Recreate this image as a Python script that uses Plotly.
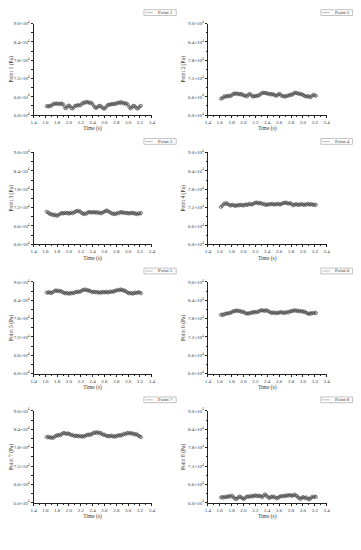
import plotly.graph_objects as go

time_s = [1.62,1.64,1.66,1.68,1.70,1.72,1.74,1.76,1.78,1.80,
          1.82,1.84,1.86,1.88,1.90,1.92,1.94,1.96,1.98,2.00,
          2.02,2.04,2.06,2.08,2.10,2.12,2.14,2.16,2.18,2.20,
          2.22,2.24,2.26,2.28,2.30,2.32,2.34,2.36,2.38,2.40,
          2.42,2.44,2.46,2.48,2.50,2.52,2.54,2.56,2.58,2.60,
          2.62,2.64,2.66,2.68,2.70,2.72,2.74,2.76,2.78,2.80,
          2.82,2.84,2.86,2.88,2.90,2.92,2.94,2.96,2.98,3.00,
          3.02,3.04,3.06,3.08,3.10,3.12,3.14,3.16,3.18,3.20,3.22]

# pressure values in units of 10^4 Pa
point1 = [6.29,6.30,6.28,6.31,6.30,6.35,6.38,6.36,6.39,6.37,
          6.38,6.35,6.39,6.37,6.36,6.28,6.22,6.24,6.30,6.32,
          6.29,6.23,6.21,6.25,6.31,6.30,6.33,6.31,6.34,6.32,
          6.38,6.41,6.39,6.43,6.44,6.41,6.42,6.39,6.41,6.36,
          6.30,6.25,6.23,6.26,6.30,6.31,6.29,6.25,6.22,6.21,
          6.24,6.30,6.34,6.33,6.36,6.35,6.37,6.36,6.38,6.37,
          6.40,6.42,6.39,6.43,6.41,6.38,6.40,6.37,6.38,6.33,
          6.26,6.22,6.24,6.30,6.31,6.28,6.23,6.21,6.24,6.29,6.31]
point2 = [6.54,6.55,6.58,6.62,6.60,6.63,6.61,6.64,6.62,6.65,
          6.68,6.71,6.69,6.72,6.70,6.68,6.70,6.67,6.69,6.65,
          6.63,6.64,6.61,6.66,6.70,6.68,6.64,6.60,6.62,6.63,
          6.62,6.65,6.64,6.68,6.71,6.73,6.74,6.72,6.73,6.70,
          6.71,6.68,6.70,6.67,6.69,6.66,6.64,6.63,6.67,6.70,
          6.68,6.64,6.61,6.63,6.60,6.62,6.65,6.63,6.66,6.68,
          6.66,6.70,6.73,6.74,6.72,6.70,6.71,6.68,6.69,6.66,
          6.64,6.62,6.60,6.63,6.61,6.58,6.61,6.64,6.67,6.65,6.63]
point3 = [7.07,7.05,7.02,6.98,7.00,6.96,6.95,6.98,6.94,6.93,
          6.96,6.98,7.01,7.03,7.00,7.02,7.04,7.01,7.03,7.00,
          7.02,7.04,7.01,7.03,7.06,7.08,7.10,7.07,7.09,7.05,
          7.02,6.99,7.01,6.98,7.02,7.04,7.06,7.05,7.03,7.06,
          7.04,7.05,7.03,7.06,7.02,7.04,7.01,7.03,7.05,7.07,
          7.09,7.11,7.08,7.06,7.04,7.02,6.99,7.01,6.98,7.00,
          7.03,7.01,7.04,7.06,7.03,7.05,7.02,7.04,7.01,7.03,
          7.00,7.02,7.04,7.01,7.03,6.99,7.01,6.98,7.02,7.00,7.03]
point4 = [7.22,7.25,7.30,7.34,7.32,7.35,7.31,7.29,7.26,7.28,
          7.30,7.27,7.25,7.28,7.26,7.29,7.27,7.30,7.28,7.26,
          7.29,7.31,7.28,7.30,7.33,7.31,7.29,7.32,7.34,7.36,
          7.37,7.35,7.33,7.36,7.34,7.31,7.33,7.30,7.28,7.31,
          7.29,7.32,7.30,7.33,7.31,7.29,7.32,7.30,7.33,7.31,
          7.29,7.32,7.34,7.36,7.35,7.37,7.34,7.32,7.35,7.33,
          7.30,7.27,7.29,7.32,7.30,7.28,7.31,7.29,7.32,7.30,
          7.28,7.31,7.29,7.33,7.31,7.29,7.32,7.30,7.28,7.30,7.29]
point5 = [8.66,8.64,8.67,8.65,8.63,8.66,8.68,8.71,8.73,8.70,
          8.72,8.69,8.71,8.68,8.66,8.64,8.62,8.65,8.63,8.61,
          8.64,8.62,8.65,8.63,8.66,8.68,8.66,8.69,8.67,8.70,
          8.72,8.75,8.73,8.76,8.74,8.71,8.73,8.70,8.68,8.66,
          8.69,8.67,8.65,8.68,8.66,8.64,8.67,8.65,8.68,8.66,
          8.66,8.68,8.65,8.67,8.69,8.67,8.70,8.68,8.71,8.73,
          8.72,8.75,8.73,8.76,8.74,8.71,8.73,8.69,8.67,8.64,
          8.62,8.65,8.63,8.61,8.64,8.66,8.63,8.65,8.67,8.65,8.63]
point6 = [7.92,7.94,7.91,7.95,7.97,7.96,7.98,7.97,7.99,8.01,
          8.03,8.05,8.04,8.07,8.06,8.04,8.06,8.03,8.01,8.03,
          8.00,7.97,7.96,7.98,7.96,7.99,8.01,7.99,8.02,8.00,
          8.03,8.01,8.04,8.06,8.08,8.06,8.07,8.05,8.08,8.06,
          8.04,8.02,8.00,7.98,8.01,7.99,7.97,8.00,7.98,8.01,
          7.99,8.02,8.00,7.98,8.01,7.99,8.02,8.00,8.03,8.05,
          8.04,8.06,8.08,8.05,8.07,8.04,8.06,8.03,8.05,8.02,
          8.04,8.01,7.99,7.97,7.95,7.98,7.96,7.99,7.97,8.00,7.98]
point7 = [8.15,8.13,8.16,8.12,8.14,8.11,8.13,8.16,8.18,8.21,
          8.19,8.22,8.20,8.25,8.27,8.28,8.26,8.24,8.27,8.25,
          8.23,8.20,8.22,8.19,8.17,8.20,8.18,8.16,8.19,8.17,
          8.15,8.18,8.16,8.19,8.21,8.23,8.20,8.24,8.22,8.26,
          8.28,8.30,8.27,8.31,8.29,8.26,8.28,8.24,8.21,8.23,
          8.20,8.17,8.19,8.16,8.18,8.20,8.17,8.15,8.18,8.16,
          8.19,8.21,8.18,8.22,8.20,8.24,8.26,8.23,8.27,8.29,
          8.26,8.28,8.25,8.27,8.24,8.22,8.25,8.21,8.18,8.16,8.14]
point8 = [6.17,6.19,6.16,6.20,6.18,6.21,6.19,6.22,6.20,6.24,
          6.21,6.17,6.13,6.12,6.15,6.19,6.21,6.18,6.15,6.12,
          6.14,6.18,6.20,6.22,6.19,6.21,6.23,6.20,6.22,6.25,
          6.23,6.21,6.24,6.22,6.20,6.18,6.24,6.28,6.25,6.21,
          6.17,6.15,6.19,6.21,6.18,6.20,6.17,6.14,6.16,6.19,
          6.22,6.20,6.23,6.21,6.24,6.22,6.25,6.23,6.26,6.24,
          6.22,6.25,6.27,6.24,6.22,6.18,6.15,6.12,6.16,6.19,
          6.17,6.15,6.18,6.14,6.11,6.13,6.17,6.20,6.18,6.21,6.19]

series_names = ["Point 1", "Point 2", "Point 3", "Point 4",
                "Point 5", "Point 6", "Point 7", "Point 8"]
series_values = [point1, point2, point3, point4, point5, point6, point7, point8]

x_tick_vals = [1.4, 1.6, 1.8, 2.0, 2.2, 2.4, 2.6, 2.8, 3.0, 3.2, 3.4]
x_tick_text = ["1.4", "1.6", "1.8", "2.0", "2.2", "2.4", "2.6", "2.8", "3.0", "3.2", "3.4"]
y_tick_vals = [6.0, 6.6, 7.2, 7.8, 8.4, 9.0]
y_tick_text = ["6.0×10<sup>4</sup>", "6.6×10<sup>4</sup>", "7.2×10<sup>4</sup>",
               "7.8×10<sup>4</sup>", "8.4×10<sup>4</sup>", "9.0×10<sup>4</sup>"]

# page body has an 8px margin: figure is sized and positioned to compensate
OFF = 8.0
W, H = 353, 542
FONT = "Liberation Serif"
col_px = [(30.0, 151.0), (208.3, 330.0)]
row_px = [(20.7, 113.3), (151.0, 244.0), (282.0, 374.7), (412.3, 505.3)]
legend_px = [(143.0, 176.0), (324.0, 356.5)]


def px(xv):
    return (xv - OFF) / W


def py(yv):
    return 1 - (yv - OFF) / H


fig = go.Figure()
layout = dict(width=W, height=H, margin=dict(l=0, r=0, t=0, b=0),
              paper_bgcolor="white", plot_bgcolor="white", showlegend=False)
shapes = []
annotations = []

for i, (name, vals) in enumerate(zip(series_names, series_values)):
    r, c = divmod(i, 2)
    k = i + 1
    xa = "x" if k == 1 else f"x{k}"
    ya = "y" if k == 1 else f"y{k}"
    fig.add_trace(go.Scatter(
        x=time_s, y=vals, name=name, xaxis=xa, yaxis=ya,
        mode="lines+markers",
        line=dict(color="#808080", width=0.6),
        marker=dict(symbol="circle-open", size=3, color="#3c3c3c",
                    line=dict(width=0.6, color="#3c3c3c")),
    ))
    x0, x1 = col_px[c]
    yt, yb = row_px[r]
    layout["xaxis" if k == 1 else f"xaxis{k}"] = dict(
        domain=[px(x0), px(x1)], anchor=ya, range=[1.4, 3.4],
        tickvals=x_tick_vals, ticktext=x_tick_text,
        showline=True, linecolor="#222", linewidth=0.8,
        ticks="outside", ticklen=2, tickwidth=0.6, tickcolor="#222",
        minor=dict(ticks="outside", ticklen=1.2, dtick=0.1, tickcolor="#222", tickwidth=0.5),
        showgrid=False, zeroline=False,
        tickfont=dict(family=FONT, size=5, color="#333"),
        title=dict(text="Time (s)", font=dict(family=FONT, size=5.5, color="#333"), standoff=2),
    )
    layout["yaxis" if k == 1 else f"yaxis{k}"] = dict(
        domain=[py(yb), py(yt)], anchor=xa, range=[6.0, 9.0],
        tickvals=y_tick_vals, ticktext=y_tick_text,
        showline=True, linecolor="#222", linewidth=0.8,
        ticks="outside", ticklen=2, tickwidth=0.6, tickcolor="#222",
        minor=dict(ticks="outside", ticklen=1.2, dtick=0.3, tickcolor="#222", tickwidth=0.5),
        showgrid=False, zeroline=False,
        tickfont=dict(family=FONT, size=5, color="#333"),
        title=dict(text=f"{name} (Pa)", font=dict(family=FONT, size=5.5, color="#333"), standoff=2),
    )
    # legend box
    lx0, lx1 = legend_px[c]
    ly0 = yt - 14.0
    ly1 = ly0 + 5.8
    shapes.append(dict(type="rect", xref="paper", yref="paper",
                       x0=px(lx0), x1=px(lx1), y0=py(ly1), y1=py(ly0),
                       line=dict(color="#999", width=0.6), fillcolor="white"))
    shapes.append(dict(type="line", xref="paper", yref="paper",
                       x0=px(lx0 + 1.5), x1=px(lx0 + 9.0),
                       y0=py(ly0 + 2.9), y1=py(ly0 + 2.9),
                       line=dict(color="#8a8a8a", width=0.6)))
    annotations.append(dict(xref="paper", yref="paper", x=px(lx1 - 1.0), y=py(ly0 + 2.9),
                            text=name, showarrow=False, xanchor="right", yanchor="middle",
                            font=dict(family=FONT, size=5, color="#333")))

layout["shapes"] = shapes
layout["annotations"] = annotations
fig.update_layout(**layout)
fig.write_html("out.html")
